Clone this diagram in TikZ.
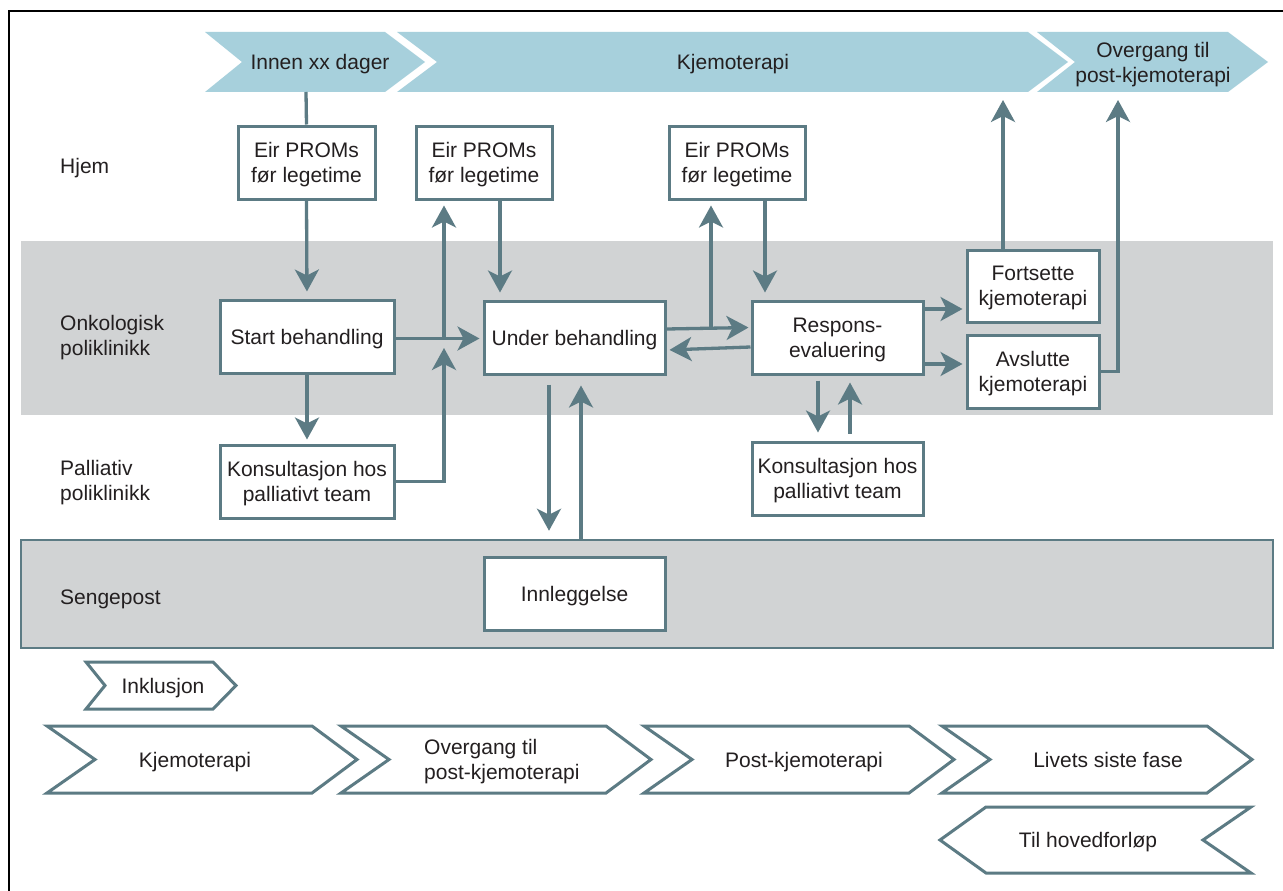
\documentclass[tikz,border=0pt]{standalone}
\usepackage{fontspec}
\setmainfont{Liberation Sans}
\usetikzlibrary{arrows.meta,calc}
\definecolor{tealc}{RGB}{92,123,132}
\definecolor{chevblue}{RGB}{167,208,220}
\definecolor{bandgrey}{RGB}{209,211,212}
\definecolor{txt}{RGB}{35,31,32}
\begin{document}
\begin{tikzpicture}[x=1pt,y=-1pt,
  every node/.style={font=\fontsize{21}{25}\selectfont, text=txt, text depth=0pt},
  box/.style={draw=tealc, line width=3pt, fill=white, inner sep=0pt, align=center},
  band/.style={inner sep=0pt, fill=bandgrey},
  conn/.style={draw=tealc, line width=3.3pt},
  arr/.style={conn, -{Stealth[length=22pt,width=24pt,inset=6pt]}},
  chev/.style={draw=tealc, line width=3pt, fill=white, line join=miter},
  topchev/.style={fill=chevblue},
  lbl/.style={anchor=west, align=left, inner sep=0pt},
  ctext/.style={align=center, inner sep=0pt}]
\useasboundingbox (0,0) rectangle (1283,891);
\fill[white] (0,0) rectangle (1283,891);
% frame
\draw[black, line width=2.5pt] (9,891) -- (9,11) -- (1283,11);
% bands
\node[band, minimum width=1252pt, minimum height=174pt] (onkband) at (647,328) {};
\node[band, draw=tealc, line width=2.5pt, minimum width=1252pt, minimum height=108pt] (seng) at (647,594) {};
% lane labels
\node[lbl] (lhjem) at (60,166) {Hjem};
\node[lbl] (lonk) at (60,335) {Onkologisk\\poliklinikk};
\node[lbl] (lpal) at (60,480.5) {Palliativ\\poliklinikk};
\node[lbl] (lseng) at (60,597) {Sengepost};
% top chevrons
\fill[topchev] (205,32) -- (385,32) -- (425,62) -- (385,92) -- (205,92) -- (242,62) -- cycle;
\fill[topchev] (397,32) -- (1028,32) -- (1068,62) -- (1028,92) -- (397,92) -- (437,62) -- cycle;
\fill[topchev] (1037,32) -- (1228,32) -- (1268,62) -- (1228,92) -- (1037,92) -- (1075,62) -- cycle;
\node[ctext] (tc1) at (320,62) {Innen xx dager};
\node[ctext] (tc2) at (733,62) {Kjemoterapi};
\node[ctext] (tc3) at (1153,62) {Overgang til\\post-kjemoterapi};
\coordinate (c1b) at (306,92);
\coordinate (t1) at (1003,100);
\coordinate (t2) at (1118,100);
% boxes
\node[box, minimum width=137pt, minimum height=73pt] (eir1) at (306.5,162.5) {Eir PROMs\\før legetime};
\node[box, minimum width=136pt, minimum height=73pt] (eir2) at (484,162.5) {Eir PROMs\\før legetime};
\node[box, minimum width=136pt, minimum height=73pt] (eir3) at (737,162.5) {Eir PROMs\\før legetime};
\node[box, minimum width=174pt, minimum height=73pt] (start) at (307,336.5) {Start behandling};
\node[box, minimum width=181pt, minimum height=73pt] (under) at (574.5,337.5) {Under behandling};
\node[box, minimum width=171pt, minimum height=73pt] (resp) at (837.5,337.5) {Respons-\\evaluering};
\node[box, minimum width=132pt, minimum height=72pt] (fort) at (1033,286) {Fortsette\\kjemoterapi};
\node[box, minimum width=132pt, minimum height=73pt] (avsl) at (1033,371.5) {Avslutte\\kjemoterapi};
\node[box, minimum width=174pt, minimum height=73pt] (kons1) at (307,481.5) {Konsultasjon hos\\palliativt team};
\node[box, minimum width=171pt, minimum height=73pt] (kons2) at (837.5,478.5) {Konsultasjon hos\\palliativt team};
\node[box, minimum width=181pt, minimum height=73pt] (innl) at (574.5,593.5) {Innleggelse};
% connectors
\draw[conn] (c1b) -- (eir1.north);
\draw[arr, shorten >=7pt] (eir1.south) -- (start.north);
\draw[arr, shorten >=4pt] (start.south) -- (kons1.north);
\coordinate (s1) at ([yshift=-2pt]start.east);
\coordinate (j1) at (444,338.5);
\draw[arr, shorten >=3pt] (s1) -- (s1 -| under.west);
\draw[arr, shorten >=5pt] (j1) -- (j1 |- eir2.south);
\coordinate (j1b) at (444,348);
\draw[arr] (kons1.east) -| (j1b);
\coordinate (e2) at ([xshift=16pt]eir2.south);
\draw[arr, shorten >=7pt] (e2) -- (e2 |- under.north);
\coordinate (u1) at ([yshift=8.5pt]under.east);
\coordinate (r0) at ([yshift=10pt]resp.west);
\draw[arr, shorten >=2pt] (u1) -- (r0);
\coordinate (j2) at (711,328.5);
\draw[arr, shorten >=5pt] (j2) -- (j2 |- eir3.south);
\coordinate (rb) at ([yshift=-9.5pt]resp.west);
\coordinate (ub) at ([yshift=-12.5pt]under.east);
\draw[arr, shorten >=3pt] (rb) -- (ub);
\coordinate (e3) at ([xshift=28pt]eir3.south);
\draw[arr, shorten >=7pt] (e3) -- (e3 |- resp.north);
\coordinate (r1) at ([yshift=28.5pt]resp.east);
\coordinate (r2) at ([yshift=-26.5pt]resp.east);
\draw[arr, shorten >=3pt] (r1) -- (r1 -| fort.west);
\draw[arr, shorten >=3pt] (r2) -- (r2 -| avsl.west);
\coordinate (f1) at ([xshift=-30pt]fort.north);
\draw[arr] (f1) -- (f1 |- t1);
\draw[arr] (avsl.east) -| (t2);
\coordinate (rs) at ([xshift=-19.5pt]resp.south);
\draw[arr, shorten <=5pt, shorten >=8pt] (rs) -- (rs |- kons2.north);
\coordinate (k2) at ([xshift=12.5pt]kons2.north);
\draw[arr, shorten <=7pt, shorten >=7pt] (k2) -- (k2 |- resp.south);
\coordinate (ud) at ([xshift=-25.5pt]under.south);
\draw[arr, shorten <=9pt, shorten >=8pt] (ud) -- (ud |- seng.north);
\coordinate (uu) at ([xshift=6.5pt]under.south);
\draw[arr, shorten >=10pt] (uu |- seng.north) -- (uu);
% Inklusjon
\draw[chev] (86,662) -- (213,662) -- (236,685.5) -- (213,709) -- (86,709) -- (105,685.5) -- cycle;
\node[ctext] (tinkl) at (163,685.5) {Inklusjon};
% bottom chevrons
\foreach \x in {47,341,644,942}{
  \draw[chev] (\x,726) -- (\x+265,726) -- (\x+310,759.5) -- (\x+265,793) -- (\x,793) -- (\x+48,759.5) -- cycle;
}
\node[ctext] (b1) at (195,759.5) {Kjemoterapi};
\node[lbl] (b2) at (424,759.5) {Overgang til\\post-kjemoterapi};
\node[ctext] (b3) at (804,759.5) {Post-kjemoterapi};
\node[ctext] (b4) at (1108,759.5) {Livets siste fase};
\draw[chev] (940,840) -- (986,807) -- (1251,807) -- (1203,840) -- (1251,873) -- (986,873) -- cycle;
\node[ctext] (b5) at (1088,840) {Til hovedforløp};
\end{tikzpicture}
\end{document}
